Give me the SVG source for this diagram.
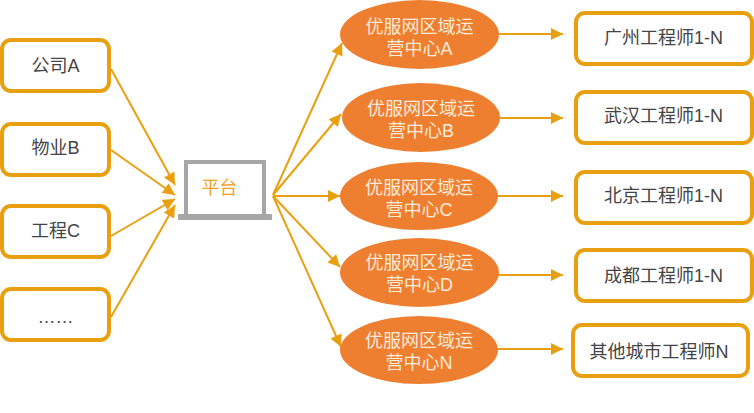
<svg xmlns="http://www.w3.org/2000/svg" width="754" height="413" viewBox="0 0 754 413">
<style>
.box{fill:#fff;stroke:#E9A010;stroke-width:4}
.ell{fill:#EE7F31}
.t{font-family:"Liberation Sans","Noto Sans CJK SC",sans-serif;font-size:18px;text-anchor:middle}
.d{fill:#444}
.w{fill:#FCEBD8}
.c{fill:none;stroke:#E9A010;stroke-width:2;marker-end:url(#a)}
</style>
<defs>
<marker id="a" markerUnits="userSpaceOnUse" markerWidth="13" markerHeight="12" refX="12" refY="6" orient="auto" overflow="visible"><path d="M0 0L12 6L0 12Z" fill="#E9A010"/></marker>
</defs>
<rect width="754" height="413" fill="#fff"/>
<g id="connectors">
<path class="c" d="M111 69L175 185"/>
<path class="c" d="M111 150L175 195"/>
<path class="c" d="M111 236L175 199"/>
<path class="c" d="M111 317L175 205"/>
<path class="c" d="M273 195L342 43"/>
<path class="c" d="M273 195L341 114"/>
<path class="c" d="M273 196L340 196"/>
<path class="c" d="M273 196L340 267"/>
<path class="c" d="M273 196L341 347"/>
<path class="c" d="M499 34L563 34"/>
<path class="c" d="M500 118L563 118"/>
<path class="c" d="M498 196L563 196"/>
<path class="c" d="M498 275L563 275"/>
<path class="c" d="M498 349L563 349"/>
</g>
<g id="src-a"><rect class="box" x="2" y="40" width="107" height="51" rx="9"/><text class="t d" x="55.500" y="72">公司A</text></g>
<g id="src-b"><rect class="box" x="2" y="124" width="107" height="51" rx="9"/><text class="t d" x="55.500" y="154">物业B</text></g>
<g id="src-c"><rect class="box" x="2" y="206" width="107" height="51" rx="9"/><text class="t d" x="55.500" y="237">工程C</text></g>
<g id="src-d"><rect class="box" x="2" y="289" width="107" height="51" rx="9"/><text class="t d" x="55.500" y="323">……</text></g>
<g id="platform">
<rect x="186" y="162" width="78" height="54" fill="#fff" stroke="#A6A6A6" stroke-width="4"/>
<rect x="178" y="214" width="94" height="6" rx="1" fill="#A6A6A6"/>
<text class="t" x="219.500" y="194" fill="#F0A020">平台</text>
</g>
<g id="hub-a"><ellipse class="ell" cx="419.500" cy="34.500" rx="79.500" ry="34.500"/><text class="t w" x="419.500" y="33">优服网区域运</text><text class="t w" x="419.500" y="55">营中心A</text></g>
<g id="hub-b"><ellipse class="ell" cx="421" cy="117.500" rx="79" ry="34.500"/><text class="t w" x="421" y="115">优服网区域运</text><text class="t w" x="421" y="137">营中心B</text></g>
<g id="hub-c"><ellipse class="ell" cx="419" cy="196" rx="79" ry="34"/><text class="t w" x="419" y="194">优服网区域运</text><text class="t w" x="419" y="216">营中心C</text></g>
<g id="hub-d"><ellipse class="ell" cx="419.500" cy="272.500" rx="79.500" ry="34.500"/><text class="t w" x="419.500" y="269">优服网区域运</text><text class="t w" x="419.500" y="291">营中心D</text></g>
<g id="hub-n"><ellipse class="ell" cx="419" cy="350" rx="79" ry="34"/><text class="t w" x="419" y="347">优服网区域运</text><text class="t w" x="419" y="369">营中心N</text></g>
<g id="eng-a"><rect class="box" x="576" y="13" width="176" height="51" rx="9"/><text class="t d" x="663.500" y="44">广州工程师1-N</text></g>
<g id="eng-b"><rect class="box" x="576" y="92" width="176" height="51" rx="9"/><text class="t d" x="663.500" y="122">武汉工程师1-N</text></g>
<g id="eng-c"><rect class="box" x="576" y="172" width="176" height="51" rx="9"/><text class="t d" x="663.500" y="202">北京工程师1-N</text></g>
<g id="eng-d"><rect class="box" x="576" y="250" width="176" height="51" rx="9"/><text class="t d" x="663.500" y="282">成都工程师1-N</text></g>
<g id="eng-n"><rect class="box" x="573" y="325" width="175" height="51" rx="9"/><text class="t d" x="659" y="358">其他城市工程师N</text></g>
</svg>
